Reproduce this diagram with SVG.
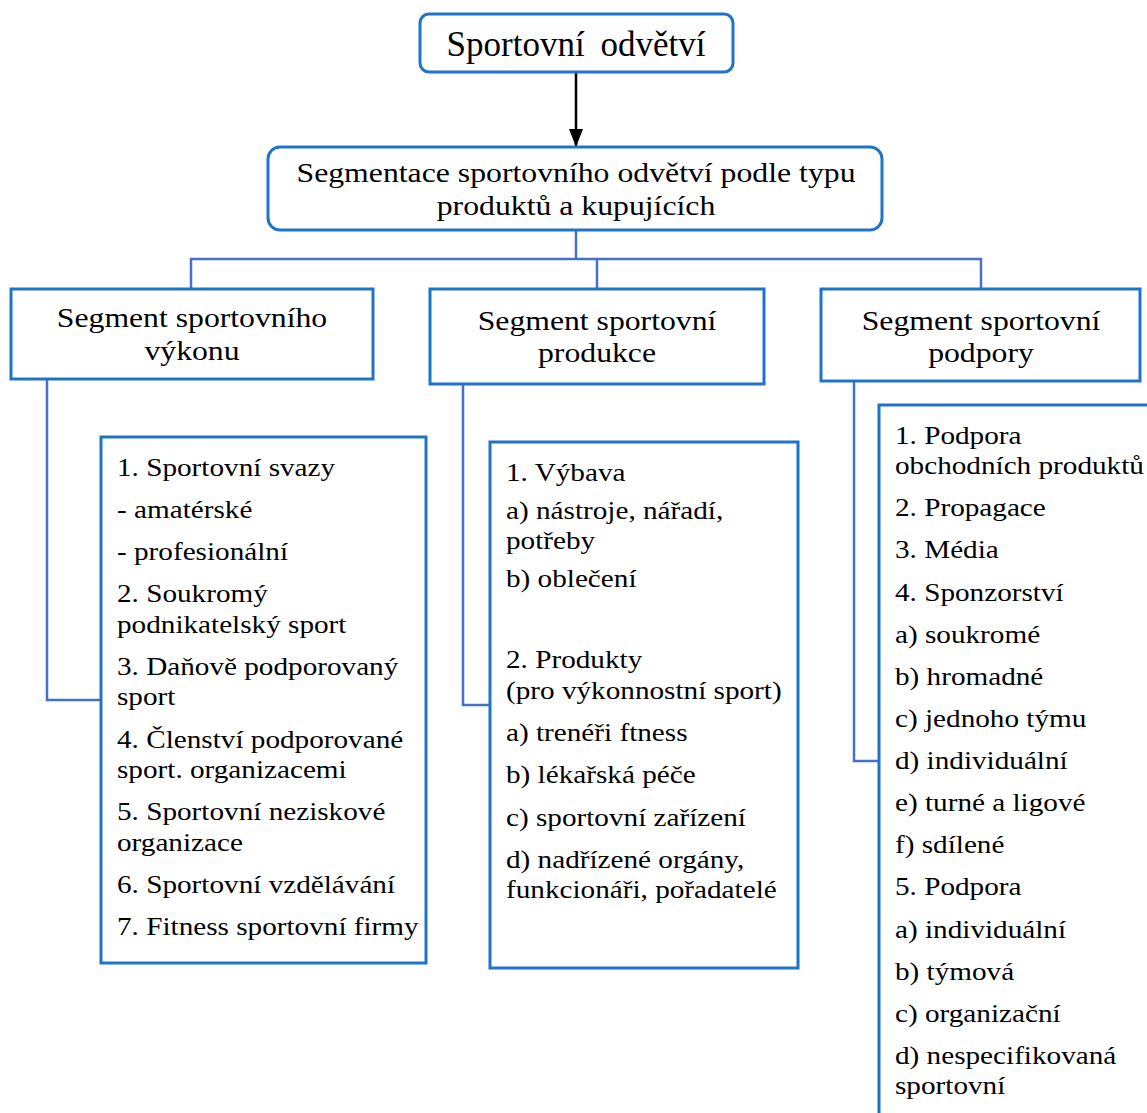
<svg xmlns="http://www.w3.org/2000/svg" width="1147" height="1113" viewBox="0 0 1147 1113">
<defs>
<marker id="ah" markerWidth="18" markerHeight="14" refX="17" refY="7" orient="auto" markerUnits="userSpaceOnUse" viewBox="0 0 18 14">
<path d="M0,0 L18,7 L0,14 z" fill="#000"/>
</marker>
</defs>
<style>
.box{fill:#fff;stroke:#1f74c8;stroke-width:3}
.con{fill:none;stroke:#4472c4;stroke-width:2.5}
.t{font-family:"Liberation Serif","Times New Roman",serif;fill:#000}
.h{font-size:27px;text-anchor:middle}
.l{font-size:25px}
</style>
<rect width="1147" height="1113" fill="#fff"/>
<g id="connectors">
<line x1="576" y1="72" x2="576" y2="146" stroke="#000" stroke-width="2.5" marker-end="url(#ah)"/>
<path class="con" d="M576,230 V259 M191,289 V259 H981 V289 M597,259 V289"/>
<path class="con" d="M47,379 V700 H101"/>
<path class="con" d="M463,384 V705 H490"/>
<path class="con" d="M854,381 V761 H879"/>
</g>
<g id="n-top">
<rect class="box" x="420" y="14" width="313" height="58" rx="9"/>
<text class="t" x="576" y="56" font-size="35" text-anchor="middle" word-spacing="7">Sportovní odvětví</text>
</g>
<g id="n-seg">
<rect class="box" x="268" y="147" width="614" height="83" rx="12"/>
<g transform="translate(576,0) scale(1.176,1)">
<text class="t h" x="0" y="182" font-size="28">Segmentace sportovního odvětví podle typu</text>
<text class="t h" x="0" y="215" font-size="28">produktů a kupujících</text>
</g>
</g>
<g id="n-vykon">
<rect class="box" x="11" y="289" width="362" height="90"/>
<g transform="translate(192,0) scale(1.175,1)">
<text class="t h" x="0" y="327">Segment sportovního</text>
<text class="t h" x="0" y="360">výkonu</text>
</g>
</g>
<g id="n-produkce">
<rect class="box" x="430" y="289" width="334" height="95"/>
<g transform="translate(597,0) scale(1.175,1)">
<text class="t h" x="0" y="330">Segment sportovní</text>
<text class="t h" x="0" y="362">produkce</text>
</g>
</g>
<g id="n-podpory">
<rect class="box" x="821" y="289" width="319" height="92"/>
<g transform="translate(981,0) scale(1.175,1)">
<text class="t h" x="0" y="330">Segment sportovní</text>
<text class="t h" x="0" y="362">podpory</text>
</g>
</g>
<g id="n-list-vykon">
<rect class="box" x="101" y="437" width="325" height="526"/>
<g transform="translate(117,0) scale(1.168,1)">
<text class="t l" x="0" y="476">1. Sportovní svazy</text>
<text class="t l" x="0" y="518">- amatérské</text>
<text class="t l" x="0" y="560">- profesionální</text>
<text class="t l" x="0" y="602">2. Soukromý</text>
<text class="t l" x="0" y="633">podnikatelský sport</text>
<text class="t l" x="0" y="675">3. Daňově podporovaný</text>
<text class="t l" x="0" y="705">sport</text>
<text class="t l" x="0" y="748">4. Členství podporované</text>
<text class="t l" x="0" y="778">sport. organizacemi</text>
<text class="t l" x="0" y="820">5. Sportovní neziskové</text>
<text class="t l" x="0" y="851">organizace</text>
<text class="t l" x="0" y="893">6. Sportovní vzdělávání</text>
<text class="t l" x="0" y="935">7. Fitness sportovní firmy</text>
</g>
</g>
<g id="n-list-produkce">
<rect class="box" x="490" y="442" width="308" height="526"/>
<g transform="translate(506,0) scale(1.168,1)">
<text class="t l" x="0" y="481">1. Výbava</text>
<text class="t l" x="0" y="519">a) nástroje, nářadí,</text>
<text class="t l" x="0" y="549">potřeby</text>
<text class="t l" x="0" y="587">b) oblečení</text>
<text class="t l" x="0" y="668">2. Produkty</text>
<text class="t l" x="0" y="699">(pro výkonnostní sport)</text>
<text class="t l" x="0" y="741">a) trenéři ftness</text>
<text class="t l" x="0" y="783">b) lékařská péče</text>
<text class="t l" x="0" y="826">c) sportovní zařízení</text>
<text class="t l" x="0" y="868">d) nadřízené orgány,</text>
<text class="t l" x="0" y="898">funkcionáři, pořadatelé</text>
</g>
</g>
<g id="n-list-podpory">
<rect class="box" x="879" y="405" width="300" height="760"/>
<g transform="translate(895,0) scale(1.168,1)">
<text class="t l" x="0" y="444">1. Podpora</text>
<text class="t l" x="0" y="474">obchodních produktů</text>
<text class="t l" x="0" y="516">2. Propagace</text>
<text class="t l" x="0" y="558">3. Média</text>
<text class="t l" x="0" y="601">4. Sponzorství</text>
<text class="t l" x="0" y="643">a) soukromé</text>
<text class="t l" x="0" y="685">b) hromadné</text>
<text class="t l" x="0" y="727">c) jednoho týmu</text>
<text class="t l" x="0" y="769">d) individuální</text>
<text class="t l" x="0" y="811">e) turné a ligové</text>
<text class="t l" x="0" y="853">f) sdílené</text>
<text class="t l" x="0" y="895">5. Podpora</text>
<text class="t l" x="0" y="938">a) individuální</text>
<text class="t l" x="0" y="980">b) týmová</text>
<text class="t l" x="0" y="1022">c) organizační</text>
<text class="t l" x="0" y="1064">d) nespecifikovaná</text>
<text class="t l" x="0" y="1094">sportovní</text>
</g>
</g>
</svg>
